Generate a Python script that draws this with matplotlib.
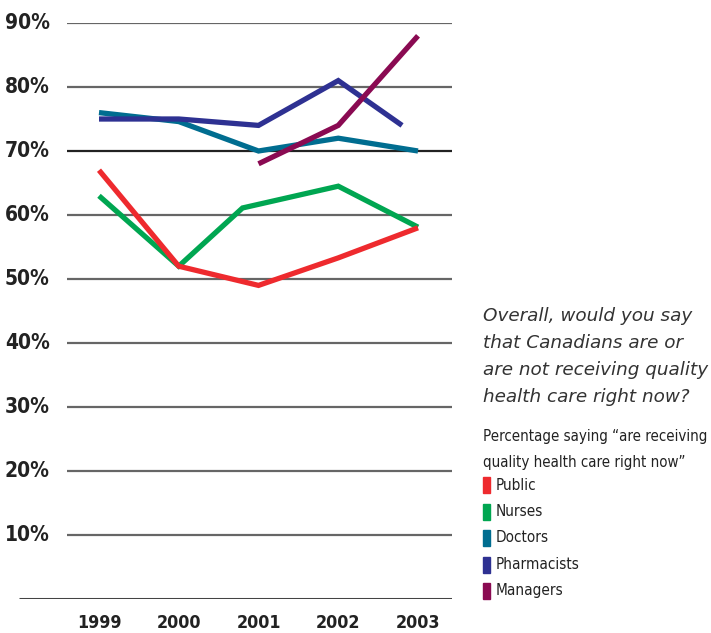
import matplotlib
matplotlib.use("Agg")
import matplotlib.pyplot as plt
from matplotlib import font_manager
from matplotlib.patches import Rectangle

# values (percent); some lines bend between year marks
public_x = [1999, 2000, 2001, 2002, 2003]
public_y = [67, 52, 49, 53.3, 58]
nurses_x = [1999, 2000, 2000.8, 2002, 2003]
nurses_y = [63, 52, 61.1, 64.5, 58.1]
doctors_x = [1999, 2000, 2001, 2002, 2003]
doctors_y = [76, 74.6, 70, 72, 70]
pharm_x = [1999, 2000, 2001, 2002, 2002.8]
pharm_y = [75, 75, 74, 81, 74]
managers_x = [2001, 2002, 2003]
managers_y = [68, 74, 88]

years = [1999, 2000, 2001, 2002, 2003]
gridvals = [10, 20, 30, 40, 50, 60, 70, 80, 90]

names = ["Public", "Nurses", "Doctors", "Pharmacists", "Managers"]
colors = ["#ee2a2e", "#00a651", "#006d90", "#2e3192", "#8a0a52"]

# condensed face if there is one, otherwise plain DejaVu a bit smaller
fp = font_manager.FontProperties(family="DejaVu Sans", stretch="condensed")
has_cond = "Condensed" in font_manager.findfont(fp, fallback_to_default=True)
narrow = dict(family="DejaVu Sans", stretch="condensed")
k_ = 1.0 if has_cond else 0.85

W, H = 711, 633
fig = plt.figure(figsize=(W / 100, H / 100), dpi=100)
# axes from pixel x=5..452, y=23 (90%)..599 (0%)
ax = fig.add_axes([5 / W, (H - 599) / H, (452 - 5) / W, (599 - 23) / H])
px = 79.75  # pixels per year
ax.set_xlim(1999 - 94 / px, 2003 + 34 / px)
ax.set_ylim(0, 90)
ax.axis("off")

grid_start = 1999 - 32 / px
for g in gridvals:
    c = "#222222" if g == 70 else "#666666"
    ax.hlines(g, grid_start, ax.get_xlim()[1], color=c, lw=1.6, zorder=1)
    ax.text(1999 - 94 / px, g, f"{g}%", ha="left", va="center",
            fontsize=15 * k_, fontweight="bold", color="#222222", **narrow)
ax.hlines(0, 1999 - 80 / px, ax.get_xlim()[1], color="#444444", lw=2.2, zorder=1)

for yr in years:
    ax.text(yr, -3.7, str(yr), ha="center", va="center",
            fontsize=12.8 * k_, fontweight="bold", color="#222222", **narrow)

series = [(public_x, public_y), (nurses_x, nurses_y), (doctors_x, doctors_y),
          (pharm_x, pharm_y), (managers_x, managers_y)]
order = [2, 3, 4, 1, 0]
for i in order:
    xs, ys = series[i]
    ax.plot(xs, ys, color=colors[i], lw=3.8, solid_capstyle="butt",
            solid_joinstyle="miter", zorder=3, clip_on=False)

# question text
q = ["Overall, would you say", "that Canadians are or",
     "are not receiving quality", "health care right now?"]
for k, line in enumerate(q):
    fig.text(483 / W, 1 - (316 + 27 * k) / H, line, ha="left", va="center",
             fontsize=13.2, style="italic", color="#333333")

sub = ["Percentage saying \u201care receiving", "quality health care right now\u201d"]
for k, line in enumerate(sub):
    fig.text(483 / W, 1 - (437 + 25 * k) / H, line, ha="left", va="center",
             fontsize=10.8 * k_, color="#222222", **narrow)

for k, (n, c) in enumerate(zip(names, colors)):
    yc = 485 + 26.5 * k
    fig.add_artist(Rectangle((483 / W, 1 - (yc + 8) / H), 7 / W, 16 / H,
                             transform=fig.transFigure, color=c))
    fig.text(496 / W, 1 - yc / H, n, ha="left", va="center",
             fontsize=11 * k_, color="#222222", **narrow)

fig.savefig("out.png", dpi=100)
